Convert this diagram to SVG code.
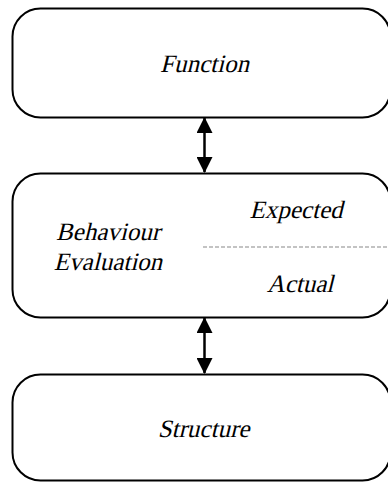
<svg xmlns="http://www.w3.org/2000/svg" width="388" height="482" viewBox="0 0 388 482">
<defs>
<style>
.box{fill:#fff;stroke:#000;stroke-width:2}
.t{font-family:"Liberation Serif",serif;font-size:25px;fill:#000}
.c{stroke:#000;stroke-width:2.5;fill:none}
.dash{stroke:#888;stroke-width:1.2;stroke-dasharray:4 2;fill:none}
</style>
<marker id="ah" viewBox="0 0 16 16" refX="15" refY="8" markerWidth="16" markerHeight="16" markerUnits="userSpaceOnUse" orient="auto-start-reverse">
<path d="M0,0 L16,8 L0,16 Z" fill="#000"/>
</marker>
</defs>
<rect width="388" height="482" fill="#fff"/>
<g id="function">
<rect class="box" x="12.5" y="8.5" width="378" height="109" rx="28" ry="28"/>
<g transform="translate(204.5 72) skewX(-14) translate(-204.5 -72)"><text class="t" x="204.5" y="72" text-anchor="middle">Function</text></g>
</g>
<g id="behaviour">
<rect class="box" x="12.5" y="173.5" width="378" height="144" rx="28" ry="28"/>
<g transform="translate(108 240) skewX(-14) translate(-108 -240)"><text class="t" x="108" y="240" text-anchor="middle">Behaviour</text></g>
<g transform="translate(108 270) skewX(-14) translate(-108 -270)"><text class="t" x="108" y="270" text-anchor="middle">Evaluation</text></g>
<g transform="translate(296 218) skewX(-14) translate(-296 -218)"><text class="t" x="296" y="218" text-anchor="middle">Expected</text></g>
<g transform="translate(300 292) skewX(-14) translate(-300 -292)"><text class="t" x="300" y="292" text-anchor="middle">Actual</text></g>
<line class="dash" x1="203" y1="247" x2="388" y2="247"/>
</g>
<g id="structure">
<rect class="box" x="12.5" y="374.5" width="378" height="106" rx="28" ry="28"/>
<g transform="translate(203.5 437) skewX(-14) translate(-203.5 -437)"><text class="t" x="203.5" y="437" text-anchor="middle">Structure</text></g>
</g>
<g id="connectors">
<line class="c" x1="204.5" y1="118" x2="204.5" y2="172" marker-start="url(#ah)" marker-end="url(#ah)"/>
<line class="c" x1="204.5" y1="318" x2="204.5" y2="373" marker-start="url(#ah)" marker-end="url(#ah)"/>
</g>
</svg>
